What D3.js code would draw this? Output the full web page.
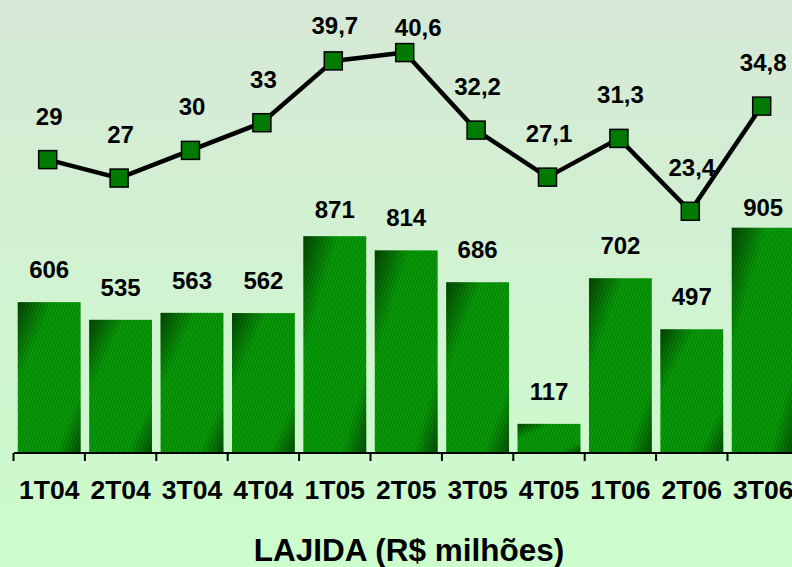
<!DOCTYPE html>
<html>
<head>
<meta charset="utf-8">
<script src="https://cdn.jsdelivr.net/npm/d3@7"></script>
<style>
  html, body { margin: 0; padding: 0; overflow: hidden; }
  svg { display: block; font-family: "Liberation Sans", Arial, sans-serif; font-weight: bold; }
</style>
</head>
<body>
<svg id="chart" width="792" height="567"></svg>
<script>
// ── Data ─────────────────────────────────────────────────────────
const quarters = ["1T04","2T04","3T04","4T04","1T05","2T05","3T05","4T05","1T06","2T06","3T06"];
const lajida   = [606, 535, 563, 562, 871, 814, 686, 117, 702, 497, 905];
const margem   = [29, 27, 30, 33, 39.7, 40.6, 32.2, 27.1, 31.3, 23.4, 34.8];

// label tweaks where the original moved text off the line
const barLabelNudge  = { "1T05": 6, "3T06": 12 };
const lineLabelNudge = { "1T05": { dx: 0, dy: 8 }, "2T05": { dx: 12, dy: 18 } };

// ── Config ───────────────────────────────────────────────────────
const W = 792, H = 567;
const baseY = 453;
const fmt = v => String(v).replace(".", ",");

const svg  = d3.select("#chart");
const defs = svg.append("defs");

// background
const bg = defs.append("linearGradient").attr("id", "bg")
  .attr("x1", 0).attr("y1", 0).attr("x2", 0).attr("y2", 1);
bg.append("stop").attr("offset", "0%").attr("stop-color", "#d6e8d6");
bg.append("stop").attr("offset", "100%").attr("stop-color", "#ccfdcc");
svg.append("rect").attr("width", W).attr("height", H).attr("fill", "url(#bg)");

// bar shading: dark top-left edge + dark bottom-right corner
const shade = defs.append("linearGradient").attr("id", "shade")
  .attr("x1", 0).attr("y1", 0).attr("x2", 1).attr("y2", 1);
[[0, 0.55], [0.28, 0], [0.8, 0], [1, 0.5]].forEach(([o, a]) =>
  shade.append("stop").attr("offset", o).attr("stop-color", "#000").attr("stop-opacity", a));

const hatch = defs.append("pattern").attr("id", "hatch")
  .attr("patternUnits", "userSpaceOnUse").attr("width", 3).attr("height", 3)
  .attr("patternTransform", "rotate(20)");
hatch.append("rect").attr("width", 1).attr("height", 3).attr("fill", "#3cbf3c").attr("opacity", 0.35);

// ── Scales ───────────────────────────────────────────────────────
const x = d3.scaleBand().domain(quarters)
  .range([13.5, 13.5 + 11 * 71.4])
  .paddingInner(0.12).paddingOuter(0.06);
const yBar  = d3.scaleLinear().domain([0, 1820]).range([baseY, 0]);
const yLine = d3.scaleLinear().domain([-2.8, 46.3]).range([baseY, 0]);
const cx = q => x(q) + x.bandwidth() / 2;

// ── Bars ─────────────────────────────────────────────────────────
const bars = svg.append("g");
const barData = quarters.map((q, i) => ({ q, v: lajida[i] }));
["#008a00", "url(#hatch)", "url(#shade)"].forEach(fill => {
  bars.selectAll(null).data(barData).enter().append("rect")
    .attr("x", d => x(d.q))
    .attr("y", d => yBar(d.v))
    .attr("width", x.bandwidth())
    .attr("height", d => baseY - yBar(d.v))
    .attr("fill", fill);
});

bars.selectAll(".blabel").data(barData).enter().append("text")
  .attr("class", "blabel")
  .attr("x", d => cx(d.q))
  .attr("y", d => yBar(d.v) - 24 + (barLabelNudge[d.q] || 0))
  .attr("text-anchor", "middle")
  .attr("font-size", 24)
  .text(d => d.v);

// ── Axis ─────────────────────────────────────────────────────────
const axis = svg.append("g").attr("stroke", "#000").attr("stroke-width", 2);
axis.append("line").attr("x1", 14).attr("x2", W).attr("y1", baseY).attr("y2", baseY);
axis.selectAll(".tick").data(quarters).enter().append("line")
  .attr("x1", d => x(d) - x.step() * 0.06).attr("x2", d => x(d) - x.step() * 0.06)
  .attr("y1", baseY).attr("y2", baseY + 8);

svg.append("g").selectAll("text").data(quarters).enter().append("text")
  .attr("x", d => cx(d))
  .attr("y", 499)
  .attr("text-anchor", "middle")
  .attr("font-size", 26.5)
  .text(d => d);

// ── Line ─────────────────────────────────────────────────────────
const lineData = quarters.map((q, i) => ({ q, v: margem[i] }));
svg.append("path").datum(lineData)
  .attr("fill", "none").attr("stroke", "#000").attr("stroke-width", 4.5)
  .attr("stroke-linejoin", "round")
  .attr("d", d3.line().x(d => cx(d.q) - 1.5).y(d => yLine(d.v)));

svg.append("g").selectAll("rect").data(lineData).enter().append("rect")
  .attr("x", d => cx(d.q) - 1.5 - 9).attr("y", d => yLine(d.v) - 9)
  .attr("width", 18).attr("height", 18)
  .attr("fill", "#007a00").attr("stroke", "#000").attr("stroke-width", 1.5);

svg.append("g").selectAll("text").data(lineData).enter().append("text")
  .attr("x", d => cx(d.q) + (lineLabelNudge[d.q] ? lineLabelNudge[d.q].dx : 0))
  .attr("y", d => yLine(d.v) - 35 + (lineLabelNudge[d.q] ? lineLabelNudge[d.q].dy : 0))
  .attr("text-anchor", "middle")
  .attr("font-size", 24)
  .text(d => fmt(d.v));

// ── Title ────────────────────────────────────────────────────────
svg.append("text")
  .attr("x", 409).attr("y", 561)
  .attr("text-anchor", "middle")
  .attr("font-size", 31.5)
  .text("LAJIDA (R$ milhões)");
</script>
</body>
</html>
